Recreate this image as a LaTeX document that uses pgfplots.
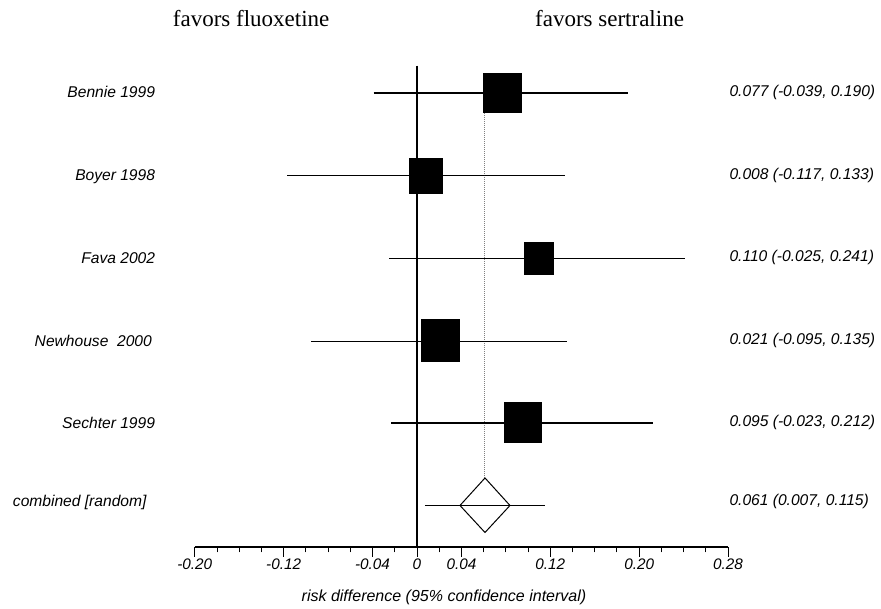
\documentclass[border=0pt]{standalone}
\usepackage{fontspec}
\setmainfont{Liberation Sans}
\newfontfamily\seriffont{Liberation Serif}
\usepackage{pgfplots}
\pgfplotsset{compat=1.18}
\newcommand{\lbl}{\fontsize{15.6}{18}\selectfont\itshape}
\begin{document}
\begin{tikzpicture}
\begin{axis}[
  scale only axis, width=533.3pt, height=482pt,
  xmin=-0.2, xmax=0.28, ymin=-547, ymax=-65,
  axis x line*=bottom, axis y line=none,
  xtick={-0.2,-0.12,-0.04,0,0.04,0.12,0.2,0.28},
  xticklabels={-0.20,-0.12,-0.04,0,0.04,0.12,0.20,0.28},
  minor xtick={-0.18,-0.16,-0.14,-0.10,-0.08,-0.06,-0.02,0.02,0.06,0.08,0.10,0.14,0.16,0.18,0.22,0.24,0.26},
  tick align=outside,
  major tick length=10pt, minor tick length=5.5pt,
  every tick/.style={black, line width=1pt},
  axis line style={black, line width=1.2pt},
  xticklabel style={font=\fontsize{15.3}{18}\selectfont\itshape, anchor=north, inner sep=2pt},
  clip=false,
]
% zero line
\addplot[black, line width=1.2pt] coordinates {(0,-65.7) (0,-547)};
% dotted pooled estimate
\addplot[gray, line width=0.9pt, dash pattern=on 1pt off 1pt] coordinates {(0.061,-93) (0.061,-478)};
% CI lines
\addplot[black, line width=1.1pt] coordinates {(-0.039,-93) (0.190,-93)};
\addplot[black, line width=1.1pt] coordinates {(-0.117,-175.7) (0.133,-175.7)};
\addplot[black, line width=1.1pt] coordinates {(-0.025,-258.3) (0.241,-258.3)};
\addplot[black, line width=1.1pt] coordinates {(-0.095,-341.3) (0.135,-341.3)};
\addplot[black, line width=1.1pt] coordinates {(-0.023,-423) (0.212,-423)};
% boxes
\addplot[fill=black, draw=none] coordinates {(0.05945,-73) (0.09455,-73) (0.09455,-113) (0.05945,-113)} --cycle;
\addplot[fill=black, draw=none] coordinates {(-0.0073,-157.7) (0.0233,-157.7) (0.0233,-193.7) (-0.0073,-193.7)} --cycle;
\addplot[fill=black, draw=none] coordinates {(0.09636,-242) (0.12364,-242) (0.12364,-274.6) (0.09636,-274.6)} --cycle;
\addplot[fill=black, draw=none] coordinates {(0.00331,-319.5) (0.03869,-319.5) (0.03869,-362.5) (0.00331,-362.5)} --cycle;
\addplot[fill=black, draw=none] coordinates {(0.0779,-402.5) (0.1121,-402.5) (0.1121,-443.5) (0.0779,-443.5)} --cycle;
% combined diamond
\addplot[fill=white, draw=black, line width=1pt] coordinates {(0.0387,-505.5) (0.0612,-478) (0.0837,-505.5) (0.0612,-532.5)} --cycle;
\addplot[black, line width=1.1pt] coordinates {(0.007,-505.5) (0.115,-505.5)};
% left labels
\node[anchor=base east, inner sep=0pt, font=\lbl] at (axis cs:-0.2356,-98) {Bennie 1999};
\node[anchor=base east, inner sep=0pt, font=\lbl] at (axis cs:-0.2356,-181) {Boyer 1998};
\node[anchor=base east, inner sep=0pt, font=\lbl] at (axis cs:-0.2356,-263.5) {Fava 2002};
\node[anchor=base east, inner sep=0pt, font=\lbl] at (axis cs:-0.2385,-346.5) {Newhouse\ \ 2000};
\node[anchor=base east, inner sep=0pt, font=\lbl] at (axis cs:-0.2356,-428.3) {Sechter 1999};
\node[anchor=base east, inner sep=0pt, font=\lbl] at (axis cs:-0.2433,-507) {combined [random]};
% right labels
\node[anchor=base west, inner sep=0pt, font=\lbl] at (axis cs:0.2811,-96.5) {0.077 (-0.039, 0.190)};
\node[anchor=base west, inner sep=0pt, font=\lbl] at (axis cs:0.2811,-179.5) {0.008 (-0.117, 0.133)};
\node[anchor=base west, inner sep=0pt, font=\lbl] at (axis cs:0.2811,-262) {0.110 (-0.025, 0.241)};
\node[anchor=base west, inner sep=0pt, font=\lbl] at (axis cs:0.2811,-345) {0.021 (-0.095, 0.135)};
\node[anchor=base west, inner sep=0pt, font=\lbl] at (axis cs:0.2811,-426.8) {0.095 (-0.023, 0.212)};
\node[anchor=base west, inner sep=0pt, font=\lbl] at (axis cs:0.2811,-506) {0.061 (0.007, 0.115)};
% headers
\node[anchor=base west, inner sep=0pt, font=\seriffont\fontsize{23}{27}\selectfont] at (axis cs:-0.2199,-26.7) {favors fluoxetine};
\node[anchor=base west, inner sep=0pt, font=\seriffont\fontsize{23}{27}\selectfont] at (axis cs:0.1062,-26.7) {favors sertraline};
% axis label
\node[anchor=base, inner sep=0pt, font=\fontsize{16}{19}\selectfont\itshape] at (axis cs:0.0243,-602) {risk difference (95\% confidence interval)};
\coordinate (BL) at (axis cs:-0.37534,-609);
\coordinate (TR) at (axis cs:0.41764,0);
\end{axis}
\pgfresetboundingbox
\path[use as bounding box] (BL) rectangle (TR);
\end{tikzpicture}
\end{document}
